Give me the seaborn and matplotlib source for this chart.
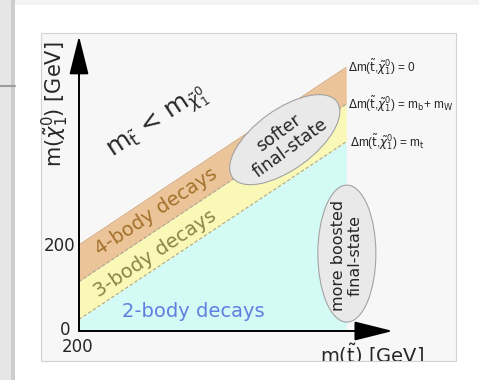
import numpy as np
import pandas as pd
import matplotlib
matplotlib.use("Agg")
import matplotlib.pyplot as plt
import seaborn as sns
from matplotlib.patches import Rectangle, Ellipse
from matplotlib.lines import Line2D
from matplotlib.transforms import ScaledTranslation

# stop mass range of the shaded regions [GeV]
stop_mass = [200, 613]
# Delta m(stop, chi) boundaries: 0, m_b + m_W, m_t
delta_m = [0, 85, 173]
delta_labels = [
    r"$\Delta$m($\tilde{\mathrm{t}}$,$\tilde{\chi}_1^0$) = 0",
    r"$\Delta$m($\tilde{\mathrm{t}}$,$\tilde{\chi}_1^0$) = m$_\mathrm{b}$+ m$_\mathrm{W}$",
    r"$\Delta$m($\tilde{\mathrm{t}}$,$\tilde{\chi}_1^0$) = m$_\mathrm{t}$",
]
band_names = ["4-body decays", "3-body decays", "2-body decays"]
band_colors = ["#ecc49a", "#faf8b6", "#d4faf5"]
band_text_colors = ["#a3732c", "#8a8646", "#5f80e0"]
band_label_pos = [(320, 277), (318, 181), (376, 46)]
tick_values = [0, 200]

sns.set_theme(style="white")
plt.rcParams["font.family"] = ["DejaVu Sans"]

W, H = 479, 380
fig = plt.figure(figsize=(W / 100, H / 100), dpi=100)
fig.patch.set_facecolor("white")


def fx(px):
    return px / W


def fy(py):
    return 1 - py / H


# page background bits
fig.add_artist(Rectangle((0, 0), fx(14), 1, transform=fig.transFigure,
                         fc="#e6e6e6", ec="none", zorder=-5))
fig.add_artist(Rectangle((fx(11), 0), fx(3.5), 1, transform=fig.transFigure,
                         fc="#cdcdcd", ec="none", zorder=-5))
fig.add_artist(Rectangle((fx(14.5), fy(5)), 1, 5 / H, transform=fig.transFigure,
                         fc="#f3f3f3", ec="none", zorder=-5))
fig.add_artist(Line2D([0, fx(15)], [fy(86), fy(86)], transform=fig.transFigure,
                      color="#9c9c9c", lw=1.5, zorder=-4))
box = Rectangle((fx(41), fy(361)), fx(456) - fx(41), (361 - 33) / H,
                transform=fig.transFigure, fc="#f7f7f7", ec="#d2d2d2", lw=0.8, zorder=-3)
fig.add_artist(box)

ax = fig.add_axes([fx(79), fy(331), 323.5 / W, 301 / H])
ax.patch.set_alpha(0)
ax.set_autoscale_on(False)
ax.set_xlim(200, 700)
ax.set_ylim(0, 700)
ax.axis("off")

x = np.array(stop_mass, dtype=float)
edges = [x - d for d in delta_m] + [np.zeros_like(x)]
for i, c in enumerate(band_colors):
    ax.fill_between(x, edges[i + 1], edges[i], color=c, lw=0, zorder=1)

lines = pd.DataFrame({
    "mstop": np.concatenate([x for _ in delta_m]),
    "mchi": np.concatenate([x - d for d in delta_m]),
    "dm": np.repeat(delta_m, len(x)),
})
for d, sub in lines.groupby("dm"):
    sns.lineplot(data=sub, x="mstop", y="mchi", ax=ax, color="#d7a878" if d == 0 else "#a8a890",
                 lw=0.8, linestyle="-" if d == 0 else (0, (3, 2)), zorder=2)

for name, col, (px, py) in zip(band_names, band_text_colors, band_label_pos):
    rot = 0 if name.startswith("2") else 33.6
    ax.text(px, py, name, color=col, fontsize=14, rotation=rot, rotation_mode="anchor",
            ha="center", va="center", zorder=4)

ax.text(322, 482, r"$\mathrm{m}_{\tilde{\mathrm{t}}}$ < $\mathrm{m}_{\tilde{\chi}_1^0}$",
        fontsize=18, rotation=33.6, rotation_mode="anchor", ha="center", va="center", zorder=4)

# ellipses, sized in inches, centred on data points
for (cx, cy), w, h, a in [((518, 445), 1.29, 0.60, 36), ((614, 180), 0.58, 1.37, 0)]:
    e = Ellipse((0, 0), w, h, angle=a,
                transform=fig.dpi_scale_trans + ScaledTranslation(cx, cy, ax.transData),
                fc="#e9e9e9", ec="#a3a3a3", lw=0.8, zorder=3)
    ax.add_patch(e)
ax.text(518, 443, "softer\nfinal-state", fontsize=12.5, rotation=36, rotation_mode="anchor",
        ha="center", va="center", linespacing=1.1, zorder=4)
ax.text(614, 176, "more boosted\nfinal-state", fontsize=11.5, rotation=90, rotation_mode="anchor",
        ha="center", va="center", linespacing=1.1, zorder=4)

for d, lab, dx in zip(delta_m, delta_labels, [2, 2, 4]):
    t = ax.annotate(lab, xy=(stop_mass[1], stop_mass[1] - d), xytext=(dx, 0),
                    textcoords="offset pixels", fontsize=8.5, ha="left", va="center",
                    family=["Liberation Sans", "DejaVu Sans"])
    t.set_clip_path(box)

# axes arrows
ax.annotate("", xy=(685, 0), xytext=(200, 0),
            arrowprops=dict(arrowstyle="-|>,head_length=2.0,head_width=0.5", lw=1.4,
                            color="black", shrinkA=0, shrinkB=0), zorder=5)
ax.annotate("", xy=(200, 686), xytext=(200, 0),
            arrowprops=dict(arrowstyle="-|>,head_length=2.0,head_width=0.5", lw=1.4,
                            color="black", shrinkA=0, shrinkB=0), zorder=5)

ax.annotate(str(tick_values[1]), xy=(200, tick_values[1]), xytext=(-4, -1),
            textcoords="offset pixels", fontsize=12, ha="right", va="center")
ax.annotate(str(tick_values[0]), xy=(200, tick_values[0]), xytext=(-9, 1),
            textcoords="offset pixels", fontsize=12, ha="right", va="center")
ax.annotate(str(stop_mass[0]), xy=(200, 0), xytext=(-1, -16),
            textcoords="offset pixels", fontsize=12, ha="center", va="center")

fig.text(fx(55), fy(104), r"m($\tilde{\chi}_1^0$) [GeV]", fontsize=15, rotation=90,
         ha="center", va="center")
xl = fig.text(fx(320), fy(342), r"m($\tilde{\mathrm{t}}$) [GeV]", fontsize=14,
              ha="left", va="top")
xl.set_clip_path(box)

fig.savefig("out.png", dpi=100)
